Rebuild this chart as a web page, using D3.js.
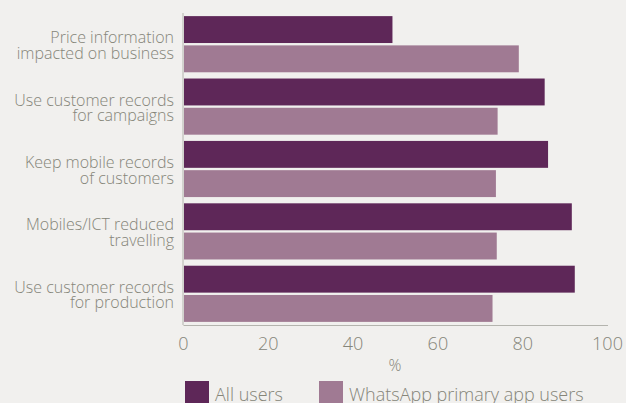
<!DOCTYPE html>
<html>
<head>
<meta charset="utf-8">
<script src="https://cdn.jsdelivr.net/npm/d3@7"></script>
<style>
  html, body { margin: 0; padding: 0; background: #f1f0ee; }
  svg { display: block; font-family: "Open Sans", "DejaVu Sans", sans-serif; font-weight: 300; }
</style>
</head>
<body>
<svg id="chart" width="626" height="403"></svg>
<script>
const categorias = [
  ["Price information", "impacted on business"],
  ["Use customer records", "for campaigns"],
  ["Keep mobile records", "of customers"],
  ["Mobiles/ICT reduced", "travelling"],
  ["Use customer records", "for production"]
];
const series = ["All users", "WhatsApp primary app users"];
const todosUsuarios = [49.4, 85.3, 86.1, 91.7, 92.4];
const whatsapp = [79.2, 74.2, 73.8, 74.0, 73.0];
const ticksX = [0, 20, 40, 60, 80, 100];

const cores = { "All users": "#5e2758", "WhatsApp primary app users": "#a07a93" };
const corTexto = "#858579";

const W = 626, H = 403;
const margin = { top: 13, right: 19, bottom: 78, left: 183 };
const plotW = W - margin.left - margin.right;
const plotH = H - margin.top - margin.bottom;

const linhas = categorias.map((c, i) => ({
  chave: c.join(" "),
  rotulo: c,
  valores: [
    { serie: series[0], valor: todosUsuarios[i] },
    { serie: series[1], valor: whatsapp[i] }
  ]
}));

const x = d3.scaleLinear().domain([0, 100]).range([0, plotW]);
const y0 = d3.scaleBand()
  .domain(linhas.map((d) => d.chave))
  .range([0, plotH])
  .paddingInner(0.1)
  .paddingOuter(0.05);
const y1 = d3.scaleBand()
  .domain(series)
  .range([0, y0.bandwidth()])
  .paddingInner(0.08);

const svg = d3.select("#chart");
const g = svg.append("g").attr("transform", `translate(${margin.left},${margin.top})`);

// barras
const grupos = g.selectAll("g.grupo")
  .data(linhas)
  .join("g")
  .attr("class", "grupo")
  .attr("transform", (d) => `translate(0,${y0(d.chave)})`);

grupos.selectAll("rect")
  .data((d) => d.valores)
  .join("rect")
  .attr("x", 1)
  .attr("y", (d) => y1(d.serie))
  .attr("width", (d) => x(d.valor) - 1)
  .attr("height", y1.bandwidth())
  .attr("fill", (d) => cores[d.serie]);

// eixo esquerdo com rótulos em duas linhas
g.append("line")
  .attr("x1", 0).attr("x2", 0)
  .attr("y1", 0).attr("y2", plotH)
  .attr("stroke", "#b4b4ae").attr("stroke-width", 1);

const rotulos = g.selectAll("text.rotulo")
  .data(linhas)
  .join("text")
  .attr("class", "rotulo")
  .attr("text-anchor", "end")
  .attr("fill", corTexto)
  .attr("font-size", "16px")
  .attr("transform", (d) => `translate(-9,${y0(d.chave) + y0.bandwidth() / 2})`);

rotulos.selectAll("tspan")
  .data((d) => d.rotulo)
  .join("tspan")
  .attr("x", 0)
  .attr("y", (d, i) => (i === 0 ? -1 : 14.5))
  .text((d) => d);

// eixo inferior
g.append("g")
  .attr("transform", `translate(0,${plotH})`)
  .call(d3.axisBottom(x).tickValues(ticksX).tickSize(0).tickPadding(12))
  .call((sel) => sel.select(".domain").attr("stroke", "#b4b4ae").attr("d", `M0.5,0.5H${plotW + 1}`))
  .call((sel) => sel.selectAll("text")
    .attr("fill", corTexto)
    .attr("font-size", "18px")
    .attr("font-family", "\"Open Sans\", \"DejaVu Sans\", sans-serif")
    .attr("font-weight", 300));

g.append("text")
  .attr("x", x(50))
  .attr("y", plotH + 46)
  .attr("text-anchor", "middle")
  .attr("fill", corTexto)
  .attr("font-size", "16px")
  .text("%");

// legenda
const legenda = svg.append("g").attr("transform", "translate(185,381)");
const itens = legenda.selectAll("g")
  .data(series)
  .join("g")
  .attr("transform", (d, i) => `translate(${i * 134},0)`);
itens.append("rect")
  .attr("width", 24).attr("height", 24)
  .attr("fill", (d) => cores[d]);
itens.append("text")
  .attr("x", 30).attr("y", 20)
  .attr("fill", corTexto)
  .attr("font-size", "18px")
  .text((d) => d);
</script>
</body>
</html>
